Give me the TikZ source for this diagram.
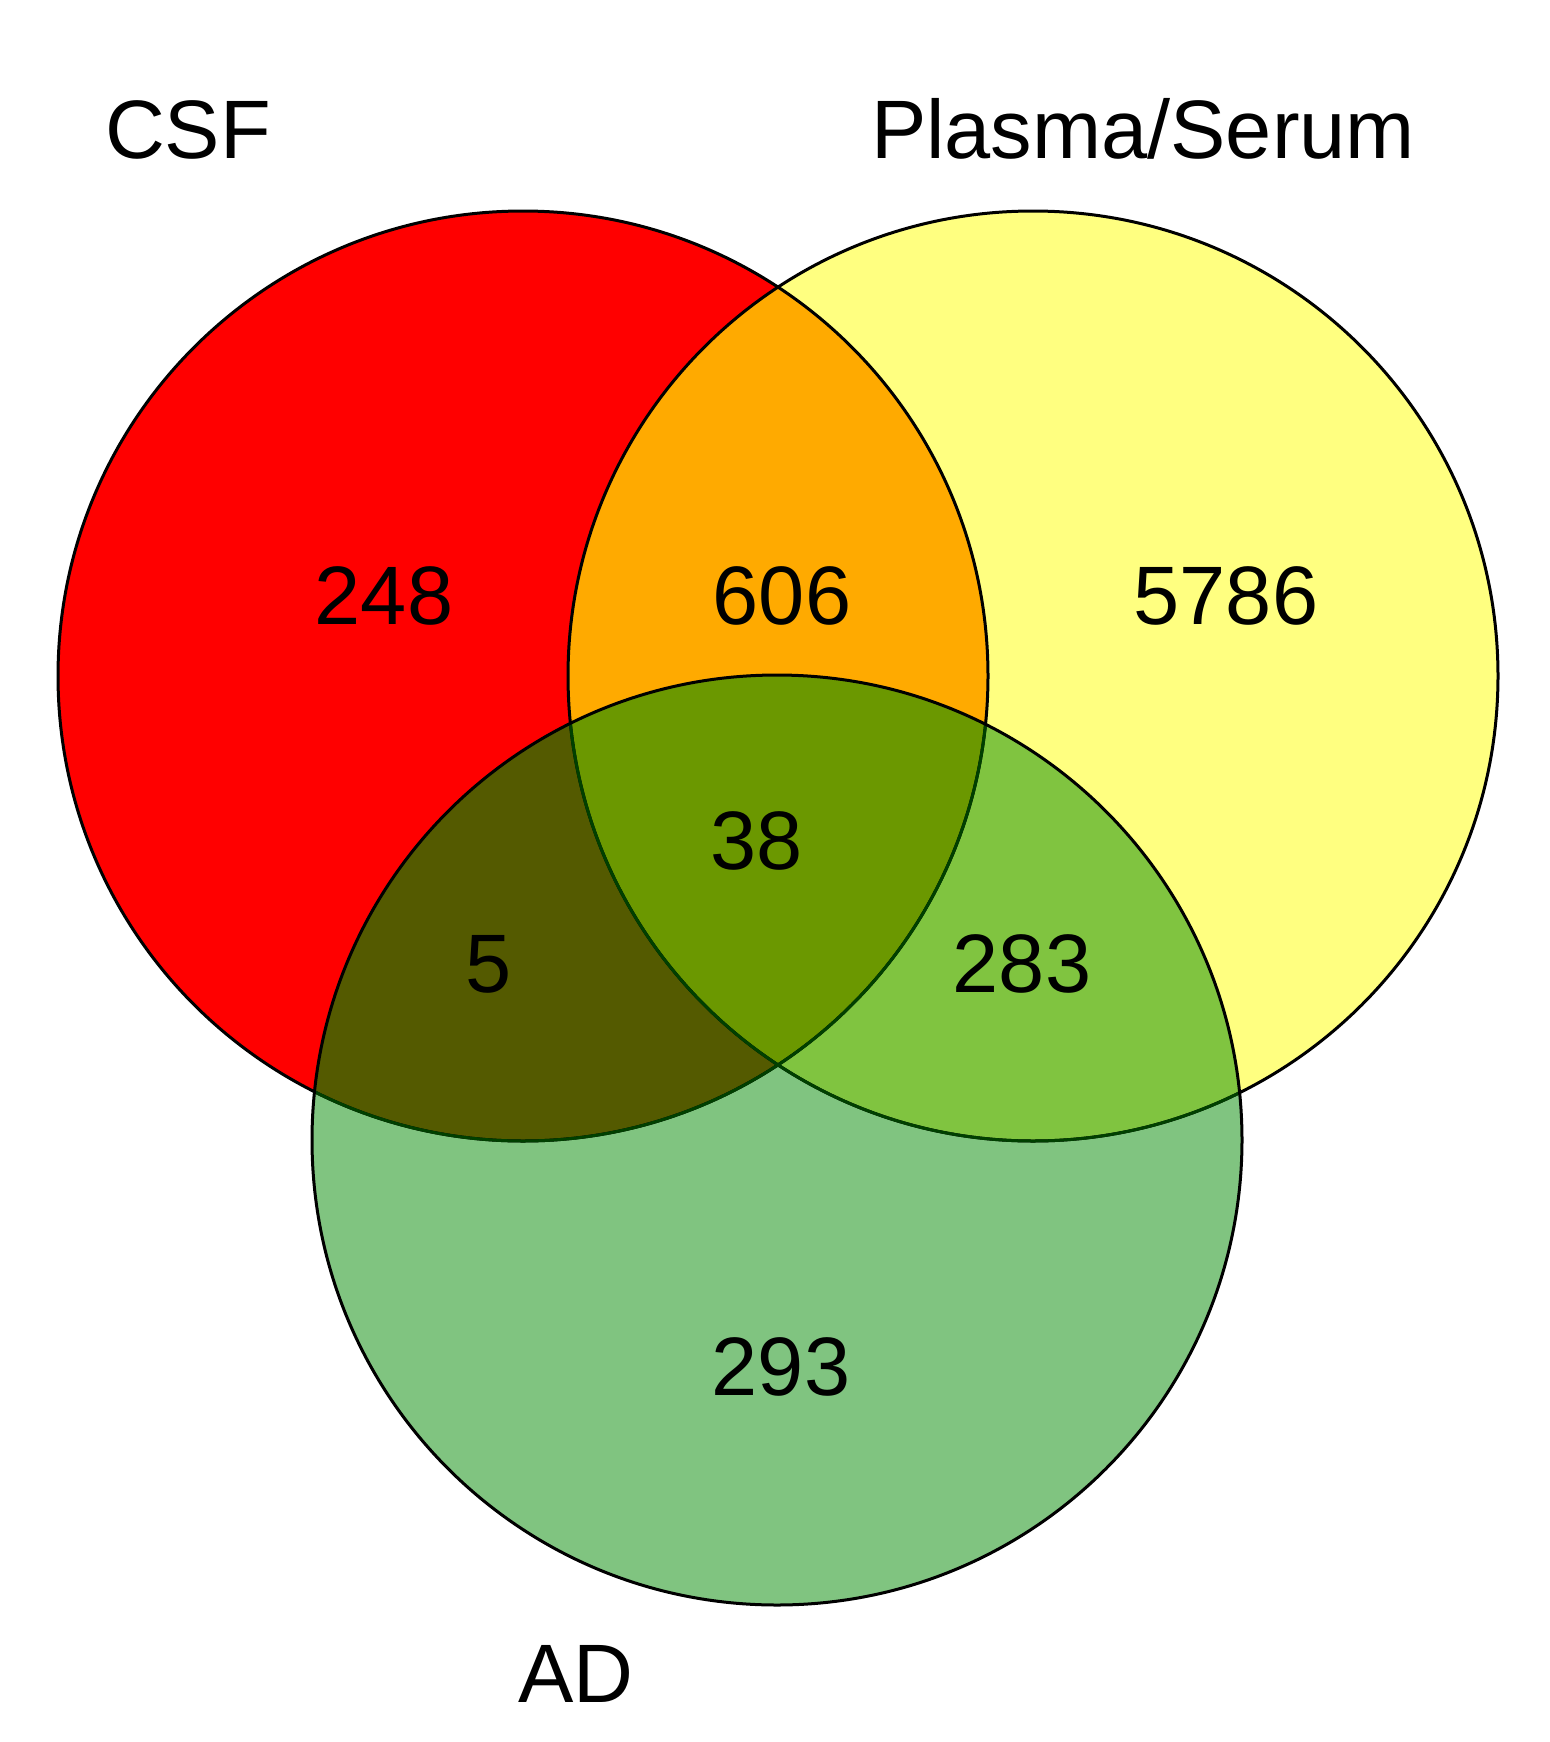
\documentclass[tikz,border=0pt]{standalone}
\usepackage{fontspec}
\setmainfont{Liberation Sans}

\definecolor{csfred}{RGB}{255,0,0}
\definecolor{plasmayellow}{RGB}{255,255,128}
\definecolor{csfplasma}{RGB}{255,170,0}
\definecolor{adgreen}{RGB}{128,196,128}
\definecolor{csfad}{RGB}{84,90,0}
\definecolor{plasmaad}{RGB}{128,196,64}
\definecolor{allthree}{RGB}{107,152,0}
\definecolor{rimgreen}{RGB}{0,64,0}

\tikzset{
  setlabel/.style={font=\fontsize{23.6}{28}\selectfont, anchor=base, inner sep=0pt},
  rim/.style={draw=black, line width=0.3mm},
}

\begin{document}
\begin{tikzpicture}[x=0.1mm,y=-0.1mm]
\useasboundingbox (0,0) rectangle (1550,1742);
\def\rad{46.5mm}
\coordinate (csf) at (523,676);
\coordinate (plasma) at (1033,676);
\coordinate (ad) at (777,1140);

% the three sets
\fill[csfred] (csf) circle (\rad);
\fill[plasmayellow] (plasma) circle (\rad);
\begin{scope}
  \clip (csf) circle (\rad);
  \fill[csfplasma] (plasma) circle (\rad);
\end{scope}
\fill[adgreen] (ad) circle (\rad);
\begin{scope}
  \clip (ad) circle (\rad);
  \fill[csfad] (csf) circle (\rad);
  \fill[plasmaad] (plasma) circle (\rad);
  \clip (csf) circle (\rad);
  \fill[allthree] (plasma) circle (\rad);
\end{scope}

% outlines
\draw[rim] (csf) circle (\rad);
\draw[rim] (plasma) circle (\rad);
\begin{scope}
  \clip (ad) circle (\rad);
  \draw[rim, draw=rimgreen] (csf) circle (\rad);
  \draw[rim, draw=rimgreen] (plasma) circle (\rad);
\end{scope}
\draw[rim] (ad) circle (\rad);

% set names
\node[setlabel] (csfname) at (188,159) {CSF};
\node[setlabel] (plasmaname) at (1143,159) {Plasma/Serum};
\node[setlabel] (adname) at (576,1702) {AD};

% counts
\node[setlabel] (n100) at (384,624) {248};
\node[setlabel] (n110) at (782,624) {606};
\node[setlabel] (n010) at (1226,624) {5786};
\node[setlabel] (n111) at (757,869) {38};
\node[setlabel] (n101) at (489,992) {5};
\node[setlabel] (n011) at (1022,992) {283};
\node[setlabel] (n001) at (781,1395) {293};
\end{tikzpicture}
\end{document}
